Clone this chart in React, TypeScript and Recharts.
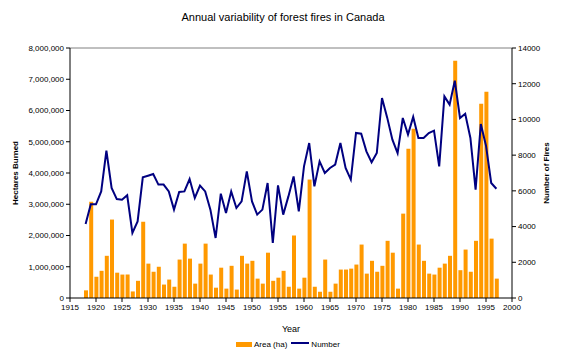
import React from "react";
import {
  Bar,
  ComposedChart,
  Line,
  ReferenceLine,
  XAxis,
  YAxis,
} from "recharts";

const years = [
  1918, 1919, 1920, 1921, 1922, 1923, 1924, 1925, 1926, 1927, 1928, 1929,
  1930, 1931, 1932, 1933, 1934, 1935, 1936, 1937, 1938, 1939, 1940, 1941,
  1942, 1943, 1944, 1945, 1946, 1947, 1948, 1949, 1950, 1951, 1952, 1953,
  1954, 1955, 1956, 1957, 1958, 1959, 1960, 1961, 1962, 1963, 1964, 1965,
  1966, 1967, 1968, 1969, 1970, 1971, 1972, 1973, 1974, 1975, 1976, 1977,
  1978, 1979, 1980, 1981, 1982, 1983, 1984, 1985, 1986, 1987, 1988, 1989,
  1990, 1991, 1992, 1993, 1994, 1995, 1996, 1997,
];

// hectares burned
const areaHa = [
  245000, 3080000, 680000, 870000, 1350000, 2510000, 810000, 750000, 750000,
  210000, 550000, 2440000, 1100000, 840000, 1000000, 430000, 590000, 360000,
  1230000, 1740000, 1260000, 460000, 1100000, 1740000, 750000, 330000, 970000,
  300000, 1030000, 270000, 1350000, 1100000, 1190000, 620000, 460000, 1450000,
  550000, 650000, 870000, 360000, 2000000, 300000, 650000, 3790000, 360000,
  200000, 1230000, 200000, 460000, 910000, 910000, 940000, 1070000, 1710000,
  780000, 1190000, 840000, 1030000, 1830000, 1450000, 300000, 2700000, 4780000,
  5420000, 1710000, 1190000, 780000, 750000, 970000, 1100000, 1350000, 7590000,
  890000, 1550000, 840000, 1830000, 6220000, 6600000, 1900000, 620000,
];

// number of fires
const fireCount = [
  4140, 5250, 5250, 5970, 8250, 6160, 5540, 5500, 5750, 3640, 4290, 6760,
  6850, 6940, 6350, 6350, 5970, 4950, 5940, 5970, 6660, 5600, 6290, 5970,
  4950, 3360, 5840, 4760, 5970, 5040, 5410, 7090, 5410, 4670, 4950, 6440,
  3080, 6310, 4670, 5690, 6810, 4850, 7370, 8680, 6250, 7650, 7000, 7280,
  7470, 8680, 7280, 6630, 9240, 9200, 8210, 7600, 8120, 11200, 10100, 8870,
  8120, 10080, 9150, 10140, 8960, 8960, 9240, 9370, 7370, 11290, 10830, 12170,
  10080, 10320, 8960, 6070, 9740, 8530, 6440, 6120,
];

const xTicks = [
  1915, 1920, 1925, 1930, 1935, 1940, 1945, 1950, 1955, 1960, 1965, 1970,
  1975, 1980, 1985, 1990, 1995, 2000,
];
const leftTicks = [
  0, 1000000, 2000000, 3000000, 4000000, 5000000, 6000000, 7000000, 8000000,
];
const rightTicks = [0, 2000, 4000, 6000, 8000, 10000, 12000, 14000];

const data = years.map((year, i) => ({
  year,
  area: areaHa[i],
  fires: fireCount[i],
}));

const font = "'Liberation Sans', Arial, sans-serif";
const tickStyle = { fontSize: 8, fill: "#000", fontFamily: font };

export default function App() {
  return (
    <div
      style={{
        position: "absolute",
        left: 0,
        top: 0,
        width: 566,
        height: 356,
        background: "#fff",
        fontFamily: font,
      }}
    >
      <div
        style={{
          position: "absolute",
          top: 11,
          left: 0,
          width: 566,
          textAlign: "center",
          fontSize: 11,
        }}
      >
        Annual variability of forest fires in Canada
      </div>
      <ComposedChart
        width={566}
        height={356}
        data={data}
        margin={{ top: 48, right: 0, bottom: 28, left: 0 }}
      >
        <XAxis
          dataKey="year"
          type="number"
          domain={[1915, 2000]}
          ticks={xTicks}
          interval={0}
          height={30}
          stroke="#000"
          tickSize={4}
          tick={tickStyle}
          label={{
            value: "Year",
            position: "insideBottom",
            offset: -4,
            style: { fontSize: 9, fill: "#000", fontFamily: font },
          }}
        />
        <YAxis
          yAxisId="left"
          domain={[0, 8000000]}
          ticks={leftTicks}
          interval={0}
          width={70}
          stroke="#000"
          tickSize={4}
          tick={tickStyle}
          tickFormatter={(v: number) => v.toLocaleString("en-US")}
          label={{
            value: "Hectares Burned",
            angle: -90,
            position: "insideLeft",
            offset: 15,
            style: {
              fontSize: 8,
              fontWeight: "bold",
              fill: "#000",
              fontFamily: font,
              textAnchor: "middle",
            },
          }}
        />
        <YAxis
          yAxisId="right"
          orientation="right"
          domain={[0, 14000]}
          ticks={rightTicks}
          interval={0}
          width={54}
          stroke="#000"
          tickSize={4}
          tick={tickStyle}
          label={{
            value: "Number of Fires",
            angle: -90,
            position: "insideRight",
            offset: 20,
            style: {
              fontSize: 8,
              fontWeight: "bold",
              fill: "#000",
              fontFamily: font,
              textAnchor: "middle",
            },
          }}
        />
        <ReferenceLine
          yAxisId="left"
          y={8000000}
          stroke="#808080"
          strokeWidth={1}
        />
        <Bar
          yAxisId="left"
          dataKey="area"
          fill="#FF9900"
          barSize={4}
          isAnimationActive={false}
        />
        <Line
          yAxisId="right"
          dataKey="fires"
          type="linear"
          stroke="#000080"
          strokeWidth={2}
          dot={false}
          activeDot={false}
          isAnimationActive={false}
        />
      </ComposedChart>
      <div
        style={{
          position: "absolute",
          top: 340,
          left: 236,
          display: "flex",
          alignItems: "center",
          fontSize: 8,
        }}
      >
        <span
          style={{
            display: "inline-block",
            width: 16,
            height: 5,
            background: "#FF9900",
            marginRight: 2,
          }}
        />
        <span style={{ marginRight: 4 }}>Area (ha)</span>
        <span
          style={{
            display: "inline-block",
            width: 18,
            height: 2,
            background: "#000080",
            marginRight: 2,
            marginTop: -4,
          }}
        />
        <span>Number</span>
      </div>
    </div>
  );
}
